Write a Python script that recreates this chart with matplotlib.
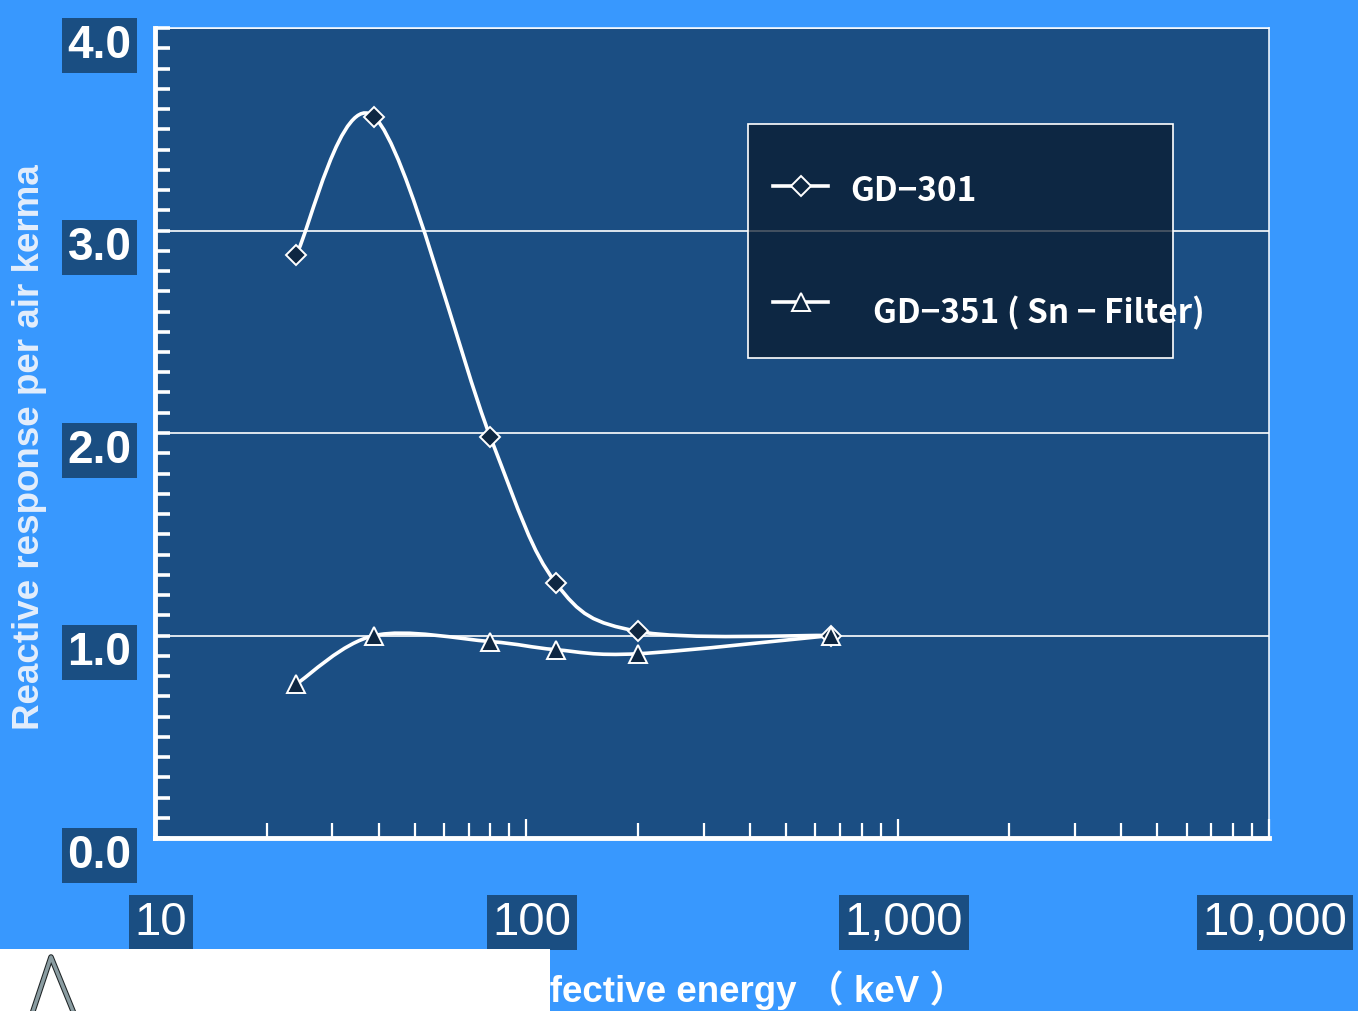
import numpy as np
import matplotlib
matplotlib.use('Agg')
from matplotlib import pyplot as plt
from matplotlib.path import Path
from matplotlib.patches import PathPatch, Rectangle
from matplotlib.lines import Line2D
from matplotlib.ticker import LogLocator, MultipleLocator, NullFormatter
import matplotlib.transforms as mtransforms
import matplotlib.patheffects as pe
from matplotlib.colors import to_rgba

FIG_BG = '#3898fe'
AX_BG = '#1b4e83'
LABEL_BOX = '#1a4e82'
MARKER_FACE = '#0e2742'

energy_kev = [24, 39, 80, 120, 200, 662]
gd301_response = [2.88, 3.56, 1.98, 1.26, 1.02, 1.00]
gd351_response = [0.76, 1.00, 0.97, 0.93, 0.91, 1.00]
series_names = ['GD\u2212301', 'GD\u2212351 ( Sn \u2212 Filter)']
x_ticks = [10, 100, 1000, 10000]
x_tick_labels = ['10', '100', '1,000', '10,000']
y_ticks = [0, 1, 2, 3, 4]
y_tick_labels = ['0.0', '1.0', '2.0', '3.0', '4.0']


def smooth_path(xs, ys):
    # catmull-rom spline as bezier segments, built in log-x space
    pts = np.column_stack([np.log10(xs), np.asarray(ys, dtype=float)])
    ext = np.vstack([pts[0], pts, pts[-1]])
    verts = [pts[0]]
    codes = [Path.MOVETO]
    for i in range(len(pts) - 1):
        p0, p1, p2, p3 = ext[i], ext[i + 1], ext[i + 2], ext[i + 3]
        verts += [p1 + (p2 - p0) / 6, p2 - (p3 - p1) / 6, p2]
        codes += [Path.CURVE4] * 3
    verts = np.array(verts)
    verts[:, 0] = 10 ** verts[:, 0]
    return Path(verts, codes)


def draw_series(ax, ys, marker, ms):
    ax.add_patch(PathPatch(smooth_path(energy_kev, ys), fill=False,
                           edgecolor='white', lw=2.6, zorder=3))
    ax.plot(energy_kev, ys, linestyle='none', marker=marker, ms=ms,
            mfc=MARKER_FACE, mec='white', mew=1.4, zorder=4, clip_on=False)


def draw_legend(ax):
    ax.add_patch(Rectangle((0.5323, 0.5926), 0.3815, 0.2889, transform=ax.transAxes,
                           facecolor=to_rgba('#08182b', 0.72), edgecolor='white',
                           lw=1.2, zorder=5))
    rows = [(0.8049, 0.7988, 0.6239, 'D', 10), (0.6617, 0.6494, 0.6445, '^', 13)]
    for name, (ly, ty, tx, marker, ms) in zip(series_names, rows):
        ax.plot([0.5548, 0.6041], [ly, ly], transform=ax.transAxes,
                color='white', lw=2.6, zorder=6)
        ax.plot([0.5799], [ly], transform=ax.transAxes, linestyle='none',
                marker=marker, ms=ms, mfc=MARKER_FACE, mec='white', mew=1.4, zorder=7)
        ax.text(tx, ty, name, transform=ax.transAxes, ha='left', va='center',
                color='white', fontsize=24, weight='bold', zorder=8, clip_on=False,
                family=['Noto Sans CJK JP', 'DejaVu Sans'])


def main():
    fig = plt.figure(figsize=(13.58, 10.12), dpi=100, facecolor=FIG_BG)
    ax = fig.add_axes([155 / 1358, 173 / 1012, 1114 / 1358, 810 / 1012])
    ax.set_facecolor(AX_BG)

    ax.set_xscale('log')
    ax.set_xlim(10, 10000)
    ax.set_ylim(0, 4)

    draw_series(ax, gd301_response, 'D', 10)
    draw_series(ax, gd351_response, '^', 13)
    draw_legend(ax)

    ax.set_xticks(x_ticks, x_tick_labels)
    ax.xaxis.set_minor_locator(LogLocator(base=10, subs=range(2, 10)))
    ax.xaxis.set_minor_formatter(NullFormatter())
    ax.set_yticks(y_ticks, y_tick_labels)
    ax.yaxis.set_minor_locator(MultipleLocator(0.1))
    ax.yaxis.grid(True, color='white', lw=1.2)

    ax.tick_params(axis='x', which='major', direction='in', length=14, width=1.6,
                   color='white', pad=45, labelsize=34, labelcolor='white')
    ax.tick_params(axis='x', which='minor', direction='in', length=11, width=1.6,
                   color='white')
    ax.tick_params(axis='y', which='both', direction='in', length=11, width=2.6,
                   color='white', pad=17, labelsize=33, labelcolor='white')

    for s in ['left', 'bottom']:
        ax.spines[s].set_linewidth(3.5)
        ax.spines[s].set_color('white')
    for s in ['top', 'right']:
        ax.spines[s].set_linewidth(1.1)
        ax.spines[s].set_color('white')

    box = dict(boxstyle='square,pad=0.12', fc=LABEL_BOX, ec='none')
    x_shift = mtransforms.ScaledTranslation(0.06, 0, fig.dpi_scale_trans)
    y_shift = mtransforms.ScaledTranslation(0, -0.12, fig.dpi_scale_trans)
    for tick in ax.xaxis.get_major_ticks():
        tick.label1.set_transform(tick.label1.get_transform() + x_shift)
        tick.label1.set_bbox(box)
        tick.label1.set_fontfamily('Liberation Sans')
    for tick in ax.yaxis.get_major_ticks():
        tick.label1.set_transform(tick.label1.get_transform() + y_shift)
        tick.label1.set_bbox(box)
        tick.label1.set_fontfamily('Liberation Sans')
        tick.label1.set_fontweight('bold')

    fig.text(30 / 1358, 1 - 447 / 1012, 'Reactive response per air kerma',
             rotation=90, ha='center', va='center', fontsize=26.5, color='#e4eefb',
             weight='bold', family='Liberation Sans')
    fig.text(513 / 1358, 1 - 990 / 1012, 'Effective energy \uff08 keV \uff09',
             ha='left', va='center', fontsize=26.5, color='white', weight='bold',
             family=['Liberation Sans', 'Noto Sans CJK JP'])

    # white patch pasted over the bottom-left corner in the source image,
    # with a fragment of some glyph showing through
    fig.add_artist(Rectangle((0, 0), 550 / 1358, 62 / 1012, transform=fig.transFigure,
                             fc='white', ec='none', zorder=10))
    fig.add_artist(Line2D([33 / 1358, 51 / 1358, 73 / 1358],
                          [0, 1 - 958 / 1012, 0], transform=fig.transFigure,
                          color='#8a9ca1', lw=2.5, zorder=11,
                          path_effects=[pe.withStroke(linewidth=4, foreground='#1e2426')]))

    fig.savefig('out.png', dpi=100, facecolor=FIG_BG)


if __name__ == '__main__':
    main()
